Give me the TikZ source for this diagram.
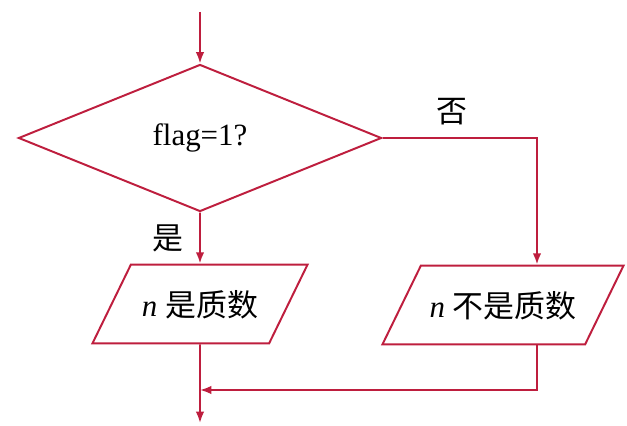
\documentclass[tikz,border=0pt]{standalone}
\usepackage{fontspec}
\setmainfont{Liberation Serif}
\newfontfamily\cjk{Noto Sans CJK SC}
\usetikzlibrary{shapes.geometric}
\usetikzlibrary{arrows.meta}
\definecolor{flowred}{RGB}{190,30,62}

\begin{document}
\begin{tikzpicture}[x=0.025cm,y=-0.025cm,
	line/.style={flowred,line width=1.4pt},
	arr/.style={line,-{Latex[length=8pt,width=6pt]}},
	txt/.style={font=\fontsize{22}{26}\selectfont},
	test/.style={diamond,draw=flowred,line width=1.4pt,inner sep=0pt,minimum width=9.075cm,minimum height=3.675cm,txt},
	io/.style={trapezium,trapezium left angle=64,trapezium right angle=116,trapezium stretches body,draw=flowred,line width=1.4pt,inner xsep=0pt,inner ysep=18pt,text height=19pt,text depth=1pt,txt}]
	\useasboundingbox (0,0) rectangle (627,426);
	\coordinate (start) at (200,12);
	\node[test] (flag) at (200,138) {flag=1?};
	\node[io,minimum width=5.375cm] (yes) at (200,304) {\textit{n} {\cjk 是质数}};
	\node[io,minimum width=6.025cm] (no) at (503,305) {\textit{n} {\cjk 不是质数}};
	\node[txt] (yeslabel) at (168,238) {\cjk 是};
	\node[txt] (nolabel) at (452,112) {\cjk 否};
	\coordinate (turn) at (537,0);
	\coordinate (join) at (200,390);
	\coordinate (stop) at (200,423);
	\draw[arr] (start) -- (flag.north);
	\draw[arr] (flag.south) -- (yes.north);
	\draw[arr] (flag.east) -| (turn |- no.north);
	\draw[line] (yes.south) -- (join);
	\draw[arr] (join) -- (stop);
	\draw[arr] (turn |- no.south) |- (join);
\end{tikzpicture}
\end{document}
